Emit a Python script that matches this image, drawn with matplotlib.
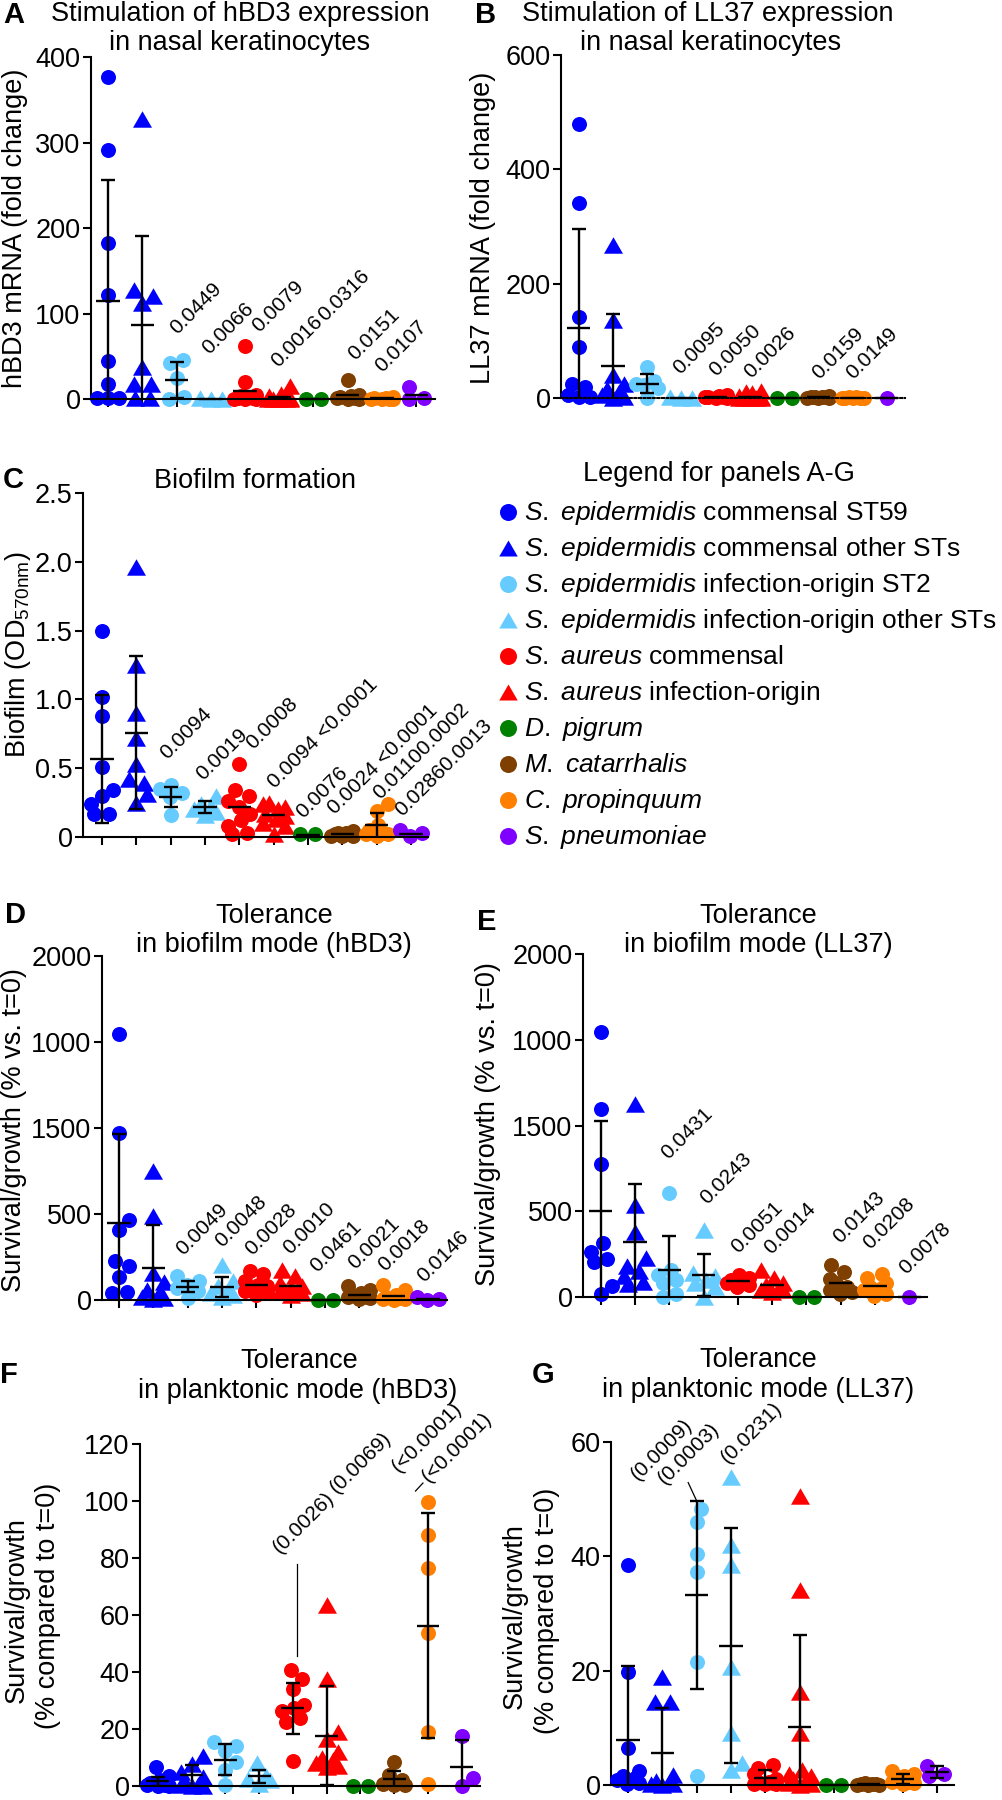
import numpy as np
import matplotlib
matplotlib.use("Agg")
import matplotlib.pyplot as plt
from matplotlib.path import Path
from matplotlib.lines import Line2D

plt.rcParams['font.family'] = ['Liberation Sans', 'DejaVu Sans']
plt.rcParams['mathtext.fontset'] = 'custom'
plt.rcParams['mathtext.rm'] = 'Liberation Sans'
plt.rcParams['mathtext.it'] = 'Liberation Sans:italic'
plt.rcParams['mathtext.bf'] = 'Liberation Sans:bold'
plt.rcParams['axes.linewidth'] = 1.5

# ---------------- groups ----------------
group_names = [
    r"$\mathit{S.\ epidermidis}$ commensal ST59",
    r"$\mathit{S.\ epidermidis}$ commensal other STs",
    r"$\mathit{S.\ epidermidis}$ infection-origin ST2",
    r"$\mathit{S.\ epidermidis}$ infection-origin other STs",
    r"$\mathit{S.\ aureus}$ commensal",
    r"$\mathit{S.\ aureus}$ infection-origin",
    r"$\mathit{D.\ pigrum}$",
    r"$\mathit{M.\ catarrhalis}$",
    r"$\mathit{C.\ propinquum}$",
    r"$\mathit{S.\ pneumoniae}$",
]
group_colors = ['#0000FF', '#0000FF', '#66CCFF', '#66CCFF', '#FF0000',
                '#FF0000', '#008000', '#7F3F00', '#FF8000', '#8000FF']
group_shapes = ['circle', 'triangle', 'circle', 'triangle', 'circle',
                'triangle', 'circle', 'circle', 'circle', 'circle']

# ---------------- panel A : hBD3 mRNA ----------------
a_points = [[377, 291, 183, 122, 44, 17, 1, 1, 1],
            [328, 128, 120, 112, 38, 17, 17, 1, 1],
            [46, 42, 25, 2, 0],
            [1, 0, 0],
            [62, 20, 5, 3, 2, 1, 1, 0, 0, 0],
            [15, 6, 3, 1, 0, 0, 0, 0, 0],
            [0, 0],
            [22, 5, 3, 2, 1, 1, 0, 0],
            [2, 1, 1, 0, 0, 0, 0],
            [14, 1, 0]]
a_means = [115, 87, 22.6, 0.5, 9, 2, 0, 4.7, 1, 5]
a_sds = [141, 104, 21, 0, 0, 0, 0, 0, 0, 0]
a_ptext = ['0.0449', '0.0066', '0.0079', '0.0016', '0.0316', '0.0151', '0.0107']
a_ppos = [(3.01, 75), (3.94, 52), (5.40, 77), (5.98, 36), (7.34, 90), (8.22, 44), (9.0, 30)]

# ---------------- panel B : LL37 mRNA ----------------
b_points = [[479, 341, 142, 89, 25, 19, 5, 2, 1],
            [267, 136, 40, 25, 15, 10, 5, 2, 0],
            [54, 30, 25, 22, 18, 0],
            [1, 0, 0],
            [5, 3, 2, 1, 1, 0, 0],
            [12, 10, 8, 3, 1, 0, 0, 0, 0, 0],
            [0, 0],
            [3, 2, 2, 1, 1, 0, 0, 0],
            [1, 1, 0, 0, 0, 0, 0],
            [0]]
b_means = [122.6, 55.5, 25, 0, 1.5, 2, 0, 1.5, 0.5, 0]
b_sds = [173, 92, 16.5, 0, 0, 0, 0, 0, 0, 0]
b_ptext = ['0.0095', '0.0050', '0.0026', '0.0159', '0.0149']
b_ppos = [(3.95, 40), (5.02, 37), (6.03, 34), (8.03, 31), (9.0, 31)]

# ---------------- panel C : biofilm formation ----------------
c_points = [[1.5, 1.02, 0.88, 0.51, 0.34, 0.30, 0.24, 0.17, 0.17],
            [1.96, 1.25, 0.90, 0.72, 0.53, 0.42, 0.39, 0.31, 0.25],
            [0.38, 0.35, 0.32, 0.29, 0.16],
            [0.30, 0.24, 0.22, 0.20, 0.18, 0.16],
            [0.53, 0.34, 0.30, 0.26, 0.22, 0.17, 0.12, 0.08, 0.03, 0.02],
            [0.25, 0.24, 0.22, 0.20, 0.17, 0.15, 0.13, 0.10, 0.08, 0.02],
            [0.02, 0.02],
            [0.04, 0.03, 0.03, 0.02, 0.02, 0.01, 0.01, 0.01],
            [0.24, 0.19, 0.09, 0.05, 0.03, 0.02, 0.02, 0.01],
            [0.05, 0.03, 0.01]]
c_means = [0.569, 0.758, 0.29, 0.218, 0.218, 0.162, 0.017, 0.02, 0.085, 0.025]
c_sds = [0.466, 0.555, 0.073, 0.043, 0, 0, 0, 0, 0.09, 0]
c_ptext = ['0.0094', '0.0019', '0.0008', '0.0094 <0.0001', '0.0076',
           '0.0024 <0.0001', '0.01100.0002', '0.02860.0013']
c_ppos = [(2.89, 0.557), (3.96, 0.41), (5.42, 0.63), (6.05, 0.35), (6.87, 0.133),
          (7.80, 0.157), (9.11, 0.266), (9.74, 0.145)]

# ---------------- panel D : tolerance biofilm hBD3 ----------------
d_points = [[1548, 970, 467, 409, 224, 195, 136, 45, 40],
            [750, 487, 156, 107, 60, 49, 20, 10, 5],
            [140, 110, 90, 70, 50, 10],
            [204, 110, 80, 60, 40, 30, 20],
            [170, 150, 110, 90, 80, 70, 60, 50, 40, 30],
            [175, 140, 100, 80, 70, 60, 55, 50, 40, 30],
            [0, 0],
            [80, 60, 40, 30, 20, 15, 10, 5],
            [90, 60, 30, 20, 10, 5, 5, 0],
            [19, 5, 0]]
d_means = [448, 185, 78, 76, 86, 80, 0, 31, 25, 8]
d_sds = [516, 253, 34, 60, 0, 0, 0, 0, 0, 0]
d_ptext = ['0.0049', '0.0048', '0.0028', '0.0010', '0.0461', '0.0021', '0.0018', '0.0146']
d_ppos = [(2.87, 257), (3.99, 302), (4.87, 253), (5.99, 263), (6.76, 156),
          (7.88, 175), (8.76, 165), (9.87, 97)]
de_ytick_text = ['0', '500', '1500', '1000', '2000']

# ---------------- panel E : tolerance biofilm LL37 ----------------
e_points = [[1543, 1099, 778, 315, 263, 224, 204, 62, 19],
            [1128, 535, 379, 230, 180, 150, 120, 90, 75],
            [607, 160, 130, 100, 80, 20, 0],
            [393, 140, 120, 100, 80, 60, 0],
            [130, 110, 100, 90, 80, 70, 60],
            [156, 110, 80, 70, 50, 40, 30, 40],
            [0, 0],
            [185, 146, 107, 80, 60, 40, 20, 30],
            [136, 110, 80, 60, 40, 20, 5, 45],
            [0]]
e_means = [500, 321, 156, 126, 91, 72, 0, 84, 62, 0]
e_sds = [527, 337, 200, 123, 0, 0, 0, 0, 0, 0]
e_ptext = ['0.0431', '0.0243', '0.0051', '0.0014', '0.0143', '0.0208', '0.0078']
e_ppos = [(2.97, 798), (4.09, 535), (5.01, 253), (5.98, 243), (7.98, 311),
          (8.85, 272), (9.92, 126)]

# ---------------- panel F : tolerance planktonic hBD3 ----------------
f_points = [[6.6, 3.5, 2.0, 1.0, 0.5, 0.2, 0, 0],
            [10.7, 7.8, 4.9, 3.0, 1.4, 0.5, 0.2, 0.0, 0.0],
            [15.3, 14.2, 12.4, 8.4, 5.5, 0.2],
            [8.0, 3.5, 2.5, 2.0, 0.8],
            [40.8, 37.4, 33.9, 28.5, 27.5, 26.3, 24.0, 22.5, 8.9],
            [63.5, 37.4, 18.8, 16.5, 12, 10, 9, 8, 7, 6.5],
            [0, 0],
            [8.4, 3.7, 2.0, 0.8, 0.5, 0.3],
            [99.7, 87.9, 76.5, 53.8, 19.0, 0.8],
            [17.6, 2.8, 0]]
f_means = [1.6, 3.7, 9.2, 3.4, 27.2, 17.6, 0, 2.3, 56.3, 6.8]
f_sds = [1.5, 3.7, 5.5, 2.3, 9.05, 17.4, 0, 2.8, 39.5, 9.4]
f_ptext = ['(0.0026)', '(0.0069)', '(<0.0001)', '(<0.0001)']
f_ppos = [(4.62, 81.5), (6.30, 102.4), (8.13, 109.9), (9.02, 106.4)]
f_leaders = [((5.11, 78), (5.11, 45.5)), ((8.63, 103.5), (8.85, 106.3))]

# ---------------- panel G : tolerance planktonic LL37 ----------------
g_points = [[38.5, 19.7, 6.5, 2.4, 1.5, 1.2, 0.8, 0.3, 0.1],
            [18.9, 14.5, 14.5, 1.8, 0.7, 0.4, 0.2, 0.1, 0.0],
            [48.3, 46.0, 40.4, 37.2, 21.5, 1.6],
            [53.8, 42.0, 38.5, 20.6, 9.1, 3.9, 2.7],
            [3.5, 3.0, 2.0, 1.0, 0.5, 0.5, 0.3, 0.2, 0.1, 0.1],
            [50.6, 34.1, 16.3, 9.1, 2.7, 2.0, 1.5, 1.0, 0.8, 0.3, 0.1, 0.0],
            [0, 0],
            [0.3, 0.2, 0.1, 0.1, 0.0, 0.0, 0.0],
            [2.4, 2.0, 1.5, 1.0, 0.5, 0.5, 0.3, 0.2],
            [3.3, 2.0, 1.6]]
g_means = [7.8, 5.6, 33.2, 24.4, 1.3, 10.2, 0, 0.1, 1.1, 2.3]
g_sds = [13.1, 7.8, 16.4, 20.6, 1.4, 16.0, 0, 0, 0.9, 1.0]
g_ptext = ['(0.0009)', '(0.0003)', '(0.0231)']
g_ppos = [(1.29, 53.2), (2.07, 52.4), (3.92, 56.1)]
g_leaders = [((2.75, 52.9), (2.99, 49.8))]

# ---------------- figure setup ----------------
W, H, DPI = 1003, 1800, 100
FS = 19.5
LEG_FS = 19
PFS = 15
LFS = 21
fig = plt.figure(figsize=(W / DPI, H / DPI), dpi=DPI)

TRI = Path([(-1, -0.866), (1, -0.866), (0, 0.866), (-1, -0.866)],
           [Path.MOVETO, Path.LINETO, Path.LINETO, Path.CLOSEPOLY])
CIRC_PX, TRI_PX = 15.0, 19.0


def marker_of(shape):
    return 'o' if shape == 'circle' else TRI


def size_of(shape):
    px = CIRC_PX if shape == 'circle' else TRI_PX
    return (px * 72.0 / DPI) ** 2


def add_axes(l, t, r, b):
    return fig.add_axes([l / W, 1 - b / H, (r - l) / W, (b - t) / H])


def ftext(x, y, s, **kw):
    return fig.text(x / W, 1 - y / H, s, **kw)


def swarm_x(ax, xc, ys, diam, search_w=15.0, final_w=11.0):
    T = ax.transData
    ys = np.asarray(ys, float)
    pts = T.transform(np.column_stack([np.full(len(ys), xc), ys]))
    ypix = pts[:, 1]
    xcpix = pts[0, 0]
    order = np.argsort(ypix, kind='stable')
    step = diam / 8.0
    cands = [0.0]
    k = 1
    while k * step <= search_w + 1e-9:
        cands += [k * step, -k * step]
        k += 1
    offs = np.zeros(len(ys))
    px_, py_ = [], []
    for i in order:
        best, bestd = 0.0, -1.0
        for c in cands:
            if px_:
                d = np.min(np.hypot(np.array(px_) - c, np.array(py_) - ypix[i]))
            else:
                d = np.inf
            if d >= diam * 0.9:
                best = c
                break
            if d > bestd + 1e-6:
                bestd, best = d, c
        offs[i] = best
        px_.append(best)
        py_.append(ypix[i])
    srt = list(order)
    clusters, cur = [], [srt[0]]
    for a, b in zip(srt[:-1], srt[1:]):
        if abs(ypix[b] - ypix[a]) < diam * 0.3:
            cur.append(b)
        else:
            clusters.append(cur)
            cur = [b]
    clusters.append(cur)
    for cl in clusters:
        if len(cl) > 1:
            mid = (offs[cl].max() + offs[cl].min()) / 2.0
            offs[cl] -= mid
    offs = np.clip(offs, -final_w, final_w)
    return T.inverted().transform(np.column_stack([xcpix + offs, ypix]))[:, 0]


def draw_panel(ax, points, means, sds, xlim, ylim, yticks, yticklabels=None,
               xticks=True, dotted_axis=False):
    ax.set_xlim(*xlim)
    ax.set_ylim(*ylim)
    for s in ['top', 'right']:
        ax.spines[s].set_visible(False)
    ax.spines['left'].set_linewidth(1.5)
    ax.spines['bottom'].set_linewidth(1.5)
    ax.spines['bottom'].set_zorder(5)
    if dotted_axis:
        ax.spines['bottom'].set_linestyle((0, (1, 1.2)))
    ax.set_yticks(yticks)
    if yticklabels is not None:
        ax.set_yticklabels(yticklabels)
    ax.tick_params(axis='y', direction='out', length=6, width=1.5,
                   labelsize=FS, pad=1.5)
    if xticks:
        ax.set_xticks(range(1, 11))
        ax.tick_params(axis='x', direction='out', length=6, width=1.5,
                       labelbottom=False)
    else:
        ax.set_xticks([])
    ax.patch.set_visible(False)
    for gi in range(10):
        xc = gi + 1
        shape = group_shapes[gi]
        diam = CIRC_PX if shape == 'circle' else 17.0
        xs = swarm_x(ax, xc, points[gi], diam)
        ax.scatter(xs, points[gi], s=size_of(shape), marker=marker_of(shape),
                   color=group_colors[gi], linewidths=0, clip_on=False, zorder=3)
        ax.hlines(means[gi], xc - 0.34, xc + 0.34, color='k', lw=1.7,
                  zorder=4, clip_on=False)
        if sds[gi] > 0:
            ax.errorbar([xc], [means[gi]], yerr=[[sds[gi]], [sds[gi]]],
                        fmt='none', ecolor='k', elinewidth=1.7, capsize=5,
                        capthick=1.7, zorder=4)


def draw_p(ax, texts, pos):
    for t, (x, y) in zip(texts, pos):
        ax.text(x, y, t, rotation=45, rotation_mode='anchor', ha='left',
                va='baseline', fontsize=PFS, clip_on=False, zorder=6)


def draw_leaders(ax, leaders):
    for (x0, y0), (x1, y1) in leaders:
        ax.plot([x0, x1], [y0, y1], color='k', lw=0.9, clip_on=False, zorder=6)


# ---------------- Panel A ----------------
axA = add_axes(91, 57, 435, 399)
draw_panel(axA, a_points, a_means, a_sds, (0.5, 10.55), (0, 400), [0, 100, 200, 300, 400])
draw_p(axA, a_ptext, a_ppos)
ftext(240, 21, 'Stimulation of hBD3 expression', ha='center', va='baseline', fontsize=FS)
ftext(240, 50, 'in nasal keratinocytes', ha='center', va='baseline', fontsize=FS)
ftext(15, 228, 'hBD3 mRNA (fold change)', rotation=90, ha='center', va='center', fontsize=FS)
ftext(3, 23, 'A', fontsize=LFS, fontweight='bold', ha='left', va='baseline')

# ---------------- Panel B ----------------
axB = add_axes(561, 55, 905, 398)
draw_panel(axB, b_points, b_means, b_sds, (0.48, 10.53), (0, 600), [0, 200, 400, 600],
           xticks=False, dotted_axis=True)
draw_p(axB, b_ptext, b_ppos)
ftext(708, 21, 'Stimulation of LL37 expression', ha='center', va='baseline', fontsize=FS)
ftext(711, 50, 'in nasal keratinocytes', ha='center', va='baseline', fontsize=FS)
ftext(483, 228, 'LL37 mRNA (fold change)', rotation=90, ha='center', va='center', fontsize=FS)
ftext(475, 23, 'B', fontsize=LFS, fontweight='bold', ha='left', va='baseline')

# ---------------- Panel C ----------------
axC = add_axes(83, 493, 428, 837)
draw_panel(axC, c_points, c_means, c_sds, (0.45, 10.5), (0, 2.5),
           [0, 0.5, 1.0, 1.5, 2.0, 2.5], ['0', '0.5', '1.0', '1.5', '2.0', '2.5'])
draw_p(axC, c_ptext, c_ppos)
ftext(255, 488, 'Biofilm formation', ha='center', va='baseline', fontsize=FS)
ftext(18, 655, r'Biofilm (OD$_{\mathrm{570nm}}$)', rotation=90, ha='center', va='center',
      fontsize=FS)
ftext(3, 488, 'C', fontsize=LFS, fontweight='bold', ha='left', va='baseline')

# ---------------- Legend ----------------
ftext(719, 481, 'Legend for panels A-G', ha='center', va='baseline', fontsize=FS)
for i in range(10):
    yy = 511.7 + 36 * i
    shape = group_shapes[i]
    ms = (17.0 if shape == 'circle' else 18.5) * 72.0 / DPI
    fig.add_artist(Line2D([508 / W], [1 - yy / H], marker=marker_of(shape),
                          markersize=ms, color=group_colors[i], linestyle='none',
                          markeredgewidth=0, transform=fig.transFigure))
    ftext(524, yy + 8.5, group_names[i], ha='left', va='baseline', fontsize=LEG_FS)

# ---------------- Panel D ----------------
axD = add_axes(102, 956, 447, 1300)
draw_panel(axD, d_points, d_means, d_sds, (0.5, 10.55), (0, 2000),
           [0, 500, 1000, 1500, 2000], de_ytick_text)
draw_p(axD, d_ptext, d_ppos)
ftext(274, 923, 'Tolerance', ha='center', va='baseline', fontsize=FS)
ftext(274, 952, 'in biofilm mode (hBD3)', ha='center', va='baseline', fontsize=FS)
ftext(14, 1130, 'Survival/growth (% vs. t=0)', rotation=90, ha='center', va='center',
      fontsize=FS)
ftext(5, 923, 'D', fontsize=LFS, fontweight='bold', ha='left', va='baseline')

# ---------------- Panel E ----------------
axE = add_axes(583, 954, 927, 1297)
draw_panel(axE, e_points, e_means, e_sds, (0.48, 10.52), (0, 2000),
           [0, 500, 1000, 1500, 2000], de_ytick_text)
draw_p(axE, e_ptext, e_ppos)
ftext(758, 923, 'Tolerance', ha='center', va='baseline', fontsize=FS)
ftext(758, 952, 'in biofilm mode (LL37)', ha='center', va='baseline', fontsize=FS)
ftext(488, 1124, 'Survival/growth (% vs. t=0)', rotation=90, ha='center', va='center',
      fontsize=FS)
ftext(477, 930, 'E', fontsize=LFS, fontweight='bold', ha='left', va='baseline')

# ---------------- Panel F ----------------
axF = add_axes(140, 1444, 480, 1786)
draw_panel(axF, f_points, f_means, f_sds, (0.47, 10.54), (0, 120),
           [0, 20, 40, 60, 80, 100, 120])
draw_p(axF, f_ptext, f_ppos)
draw_leaders(axF, f_leaders)
ftext(299, 1368, 'Tolerance', ha='center', va='baseline', fontsize=FS)
ftext(298, 1398, 'in planktonic mode (hBD3)', ha='center', va='baseline', fontsize=FS)
ftext(17, 1610, 'Survival/growth', rotation=90, ha='center', va='center', fontsize=FS)
ftext(48, 1606, '(% compared to t=0)', rotation=90, ha='center', va='center', fontsize=FS)
ftext(0, 1383, 'F', fontsize=LFS, fontweight='bold', ha='left', va='baseline')

# ---------------- Panel G ----------------
axG = add_axes(611, 1442, 954, 1785)
draw_panel(axG, g_points, g_means, g_sds, (0.5, 10.5), (0, 60), [0, 20, 40, 60])
draw_p(axG, g_ptext, g_ppos)
draw_leaders(axG, g_leaders)
ftext(758, 1367, 'Tolerance', ha='center', va='baseline', fontsize=FS)
ftext(758, 1397, 'in planktonic mode (LL37)', ha='center', va='baseline', fontsize=FS)
ftext(515, 1616, 'Survival/growth', rotation=90, ha='center', va='center', fontsize=FS)
ftext(547, 1611, '(% compared to t=0)', rotation=90, ha='center', va='center', fontsize=FS)
ftext(532, 1383, 'G', fontsize=LFS, fontweight='bold', ha='left', va='baseline')

fig.savefig('out.png', dpi=DPI)
